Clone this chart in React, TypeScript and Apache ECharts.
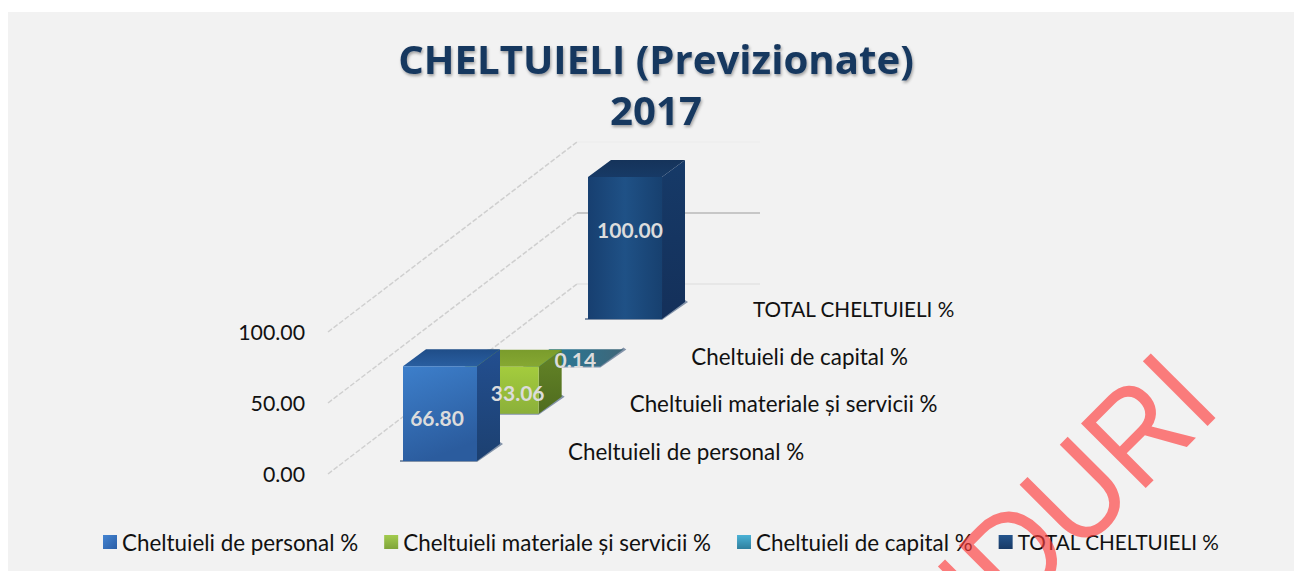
import React, { useEffect, useRef } from "react";
import * as echarts from "echarts";

const titleText = "CHELTUIELI (Previzionate)\n2017";
const categories = [
  "Cheltuieli de personal %",
  "Cheltuieli materiale și servicii %",
  "Cheltuieli de capital %",
  "TOTAL CHELTUIELI %",
];
const values = [66.8, 33.06, 0.14, 100.0];
const yTicks = [0, 50, 100];
const watermarkText = "NDURI";

const FONT = "Lato, Carlito, 'Open Sans', sans-serif";
const lg = (x2: number, y2: number, a: string, b: string, c?: string) =>
  new echarts.graphic.LinearGradient(0, 0, x2, y2, c
    ? [{ offset: 0, color: a }, { offset: 0.5, color: b }, { offset: 1, color: c }]
    : [{ offset: 0, color: a }, { offset: 1, color: b }]);

const palette = [
  { legend: lg(1, 1, "#4585d2", "#2a5ea6"), front: lg(0.3, 1, "#3d7fcb", "#2b5c9e"), top: lg(0, 1, "#1f4d88", "#295ea0"), side: lg(0, 1, "#234f90", "#1c4070") },
  { legend: lg(0, 1, "#a2cb4e", "#7fa43a"), front: lg(0, 1, "#a4cc3d", "#8bb03a"), top: lg(0, 1, "#7a9c2c", "#86a832"), side: lg(0, 1, "#658527", "#4f6c1f") },
  { legend: lg(0, 1, "#4bb2d6", "#2f7f9e"), front: lg(0, 1, "#2b87a8", "#2b87a8"), top: lg(1, 0, "#1f7fa3", "#3f6678"), side: lg(0, 1, "#3f6678", "#3f6678") },
  { legend: lg(0, 1, "#24548c", "#183a66"), front: lg(1, 0, "#173f70", "#1f5186", "#17406f"), top: lg(0, 1, "#15335a", "#173a66"), side: lg(0, 1, "#163a68", "#14305a") },
];

const GRID_LEFT = 328;
const GRID_RIGHT = 760;
const BAR_LEFT = 403;
const BAR_STEP = 61.67;
const X_MIN = (GRID_LEFT - BAR_LEFT) / BAR_STEP;
const X_MAX = (GRID_RIGHT - BAR_LEFT) / BAR_STEP;
const SLOPE = 0.767;
const BAR_W = 74;
const DEPTH_X = 23;
const DEPTH_Y = 17;
const FLOOR_DROP = 13;
const labelNudges = [[-3, 4], [16, 2], [12, -7], [5, -19]];
const gridStyles = ["#dcdcdc", "#9c9c9c", "#ececec"];
const categoryFontSizes = [22.4, 22.4, 22.4, 20.7];

const baseOf = (api: any, i: number) => {
  const [x, y0] = api.coord([i, 0]);
  return { x, y: y0 - FLOOR_DROP - (x - BAR_LEFT) * SLOPE, y0 };
};

const barSeries = (i: number) => ({
  type: "custom",
  name: categories[i],
  z: 10 - i,
  itemStyle: { color: palette[i].legend },
  encode: { x: 0, y: 1 },
  data: [[i, values[i]]],
  renderItem: (_: any, api: any) => {
    const idx = api.value(0);
    const b = baseOf(api, idx);
    const h = b.y0 - api.coord([idx, api.value(1)])[1];
    const L = b.x, R = b.x + BAR_W, B = b.y, T = b.y - h;
    const dx = DEPTH_X, dy = DEPTH_Y;
    const p = palette[i];
    const poly = (points: number[][], fill: any) => ({ type: "polygon", shape: { points }, style: { fill } });
    return {
      type: "group",
      children: [
        poly([[L - 3, B + 1], [R, B + 1], [R + dx + 3, B - dy], [R + dx, B - dy - 2], [R, B - 1], [L - 3, B - 1]], "rgba(40,70,110,0.55)"),
        poly([[R, T], [R + dx, T - dy], [R + dx, B - dy], [R, B]], p.side),
        poly([[L, T], [L + dx, T - dy], [R + dx, T - dy], [R, T]], p.top),
        poly([[L, T], [R, T], [R, B], [L, B]], p.front),
      ],
    };
  },
});

const App = () => {
  const ref = useRef<HTMLDivElement>(null);
  useEffect(() => {
    const chart = echarts.init(ref.current!, undefined, { renderer: "svg" });
    chart.setOption({
      animation: false,
      backgroundColor: "#ffffff",
      textStyle: { fontFamily: FONT },
      title: {
        text: titleText,
        left: 651,
        top: 28,
        textAlign: "center",
        textStyle: {
          fontFamily: "'Open Sans', Lato, sans-serif",
          fontSize: 40.2,
          fontWeight: "bold",
          color: "#17375e",
          lineHeight: 51,
          textShadowColor: "rgba(0,0,0,0.35)",
          textShadowBlur: 3,
          textShadowOffsetX: 1,
          textShadowOffsetY: 2,
        },
      },
      grid: { left: GRID_LEFT, top: 332, width: GRID_RIGHT - GRID_LEFT, height: 142 },
      xAxis: { type: "value", min: X_MIN, max: X_MAX, show: false },
      yAxis: {
        type: "value",
        min: 0,
        max: 100,
        interval: 50,
        axisLine: { show: false },
        axisTick: { show: false },
        splitLine: { show: false },
        axisLabel: {
          margin: 23,
          fontFamily: FONT,
          fontSize: 21.3,
          color: "#111111",
          formatter: (v: number) => v.toFixed(2),
        },
      },
      legend: {
        left: 98,
        top: 526,
        itemWidth: 14,
        itemHeight: 14,
        itemGap: 26,
        icon: "rect",
        data: categories.map((name, i) => ({ name, textStyle: { fontFamily: FONT, fontSize: categoryFontSizes[i], color: "#111111" } })),
        selectedMode: false,
        textStyle: { fontFamily: FONT, fontSize: 22.4, color: "#111111" },
      },
      series: [
        {
          type: "custom",
          z: 1,
          silent: true,
          encode: { y: 0 },
          data: yTicks.map((t) => [t]),
          renderItem: (p: any, api: any) => {
            const [x, y] = api.coord([X_MIN, api.value(0)]);
            const ex = x + 249;
            const ey = y - 249 * 0.763;
            const right = api.coord([X_MAX, 0])[0];
            return {
              type: "group",
              children: [
                { type: "line", shape: { x1: x, y1: y, x2: ex, y2: ey }, style: { stroke: "#cfcfcf", lineWidth: 1.5, lineDash: [5, 2] } },
                { type: "line", shape: { x1: ex, y1: ey, x2: right, y2: ey }, style: { stroke: gridStyles[p.dataIndex], lineWidth: 1.2 } },
              ],
            };
          },
        },
        ...[3, 2, 1, 0].map(barSeries),
        {
          type: "custom",
          z: 20,
          silent: true,
          encode: { x: 0, y: 1 },
          data: values.map((v, i) => [i, v]),
          renderItem: (p: any, api: any) => {
            const i = api.value(0);
            const b = baseOf(api, i);
            const h = b.y0 - api.coord([i, api.value(1)])[1];
            const n = labelNudges[p.dataIndex];
            return {
              type: "group",
              children: [
                {
                  type: "text",
                  x: b.x + BAR_W / 2 + n[0],
                  y: b.y - h / 2 + n[1],
                  style: {
                    text: api.value(1).toFixed(2),
                    fontFamily: FONT,
                    fontSize: 21,
                    fontWeight: "bold",
                    fill: "#dcdcdc",
                    align: "center",
                    verticalAlign: "middle",
                  },
                },
                {
                  type: "text",
                  x: b.x + 165,
                  y: b.y - 10,
                  style: {
                    text: categories[p.dataIndex],
                    fontFamily: FONT,
                    fontSize: categoryFontSizes[p.dataIndex],
                    fill: "#111111",
                    align: "left",
                    verticalAlign: "middle",
                  },
                },
              ],
            };
          },
        },
      ],
      graphic: [
        { type: "rect", z: -10, silent: true, shape: { x: 8, y: 12, width: 1286, height: 559 }, style: { fill: "#f2f2f2" } },
        {
          type: "text",
          z: 100,
          silent: true,
          x: 1238,
          y: 425,
          scaleX: 0.9,
          rotation: Math.PI / 4,
          style: {
            text: watermarkText,
            fontFamily: "'Liberation Sans', Arial, sans-serif",
            fontSize: 133,
            fill: "rgba(254,59,59,0.65)",
            align: "right",
            verticalAlign: "bottom",
          },
        },
      ],
    });
    return () => chart.dispose();
  }, []);
  return <div ref={ref} style={{ position: "fixed", left: 0, top: 0, width: 1294, height: 571 }} />;
};

export default App;
